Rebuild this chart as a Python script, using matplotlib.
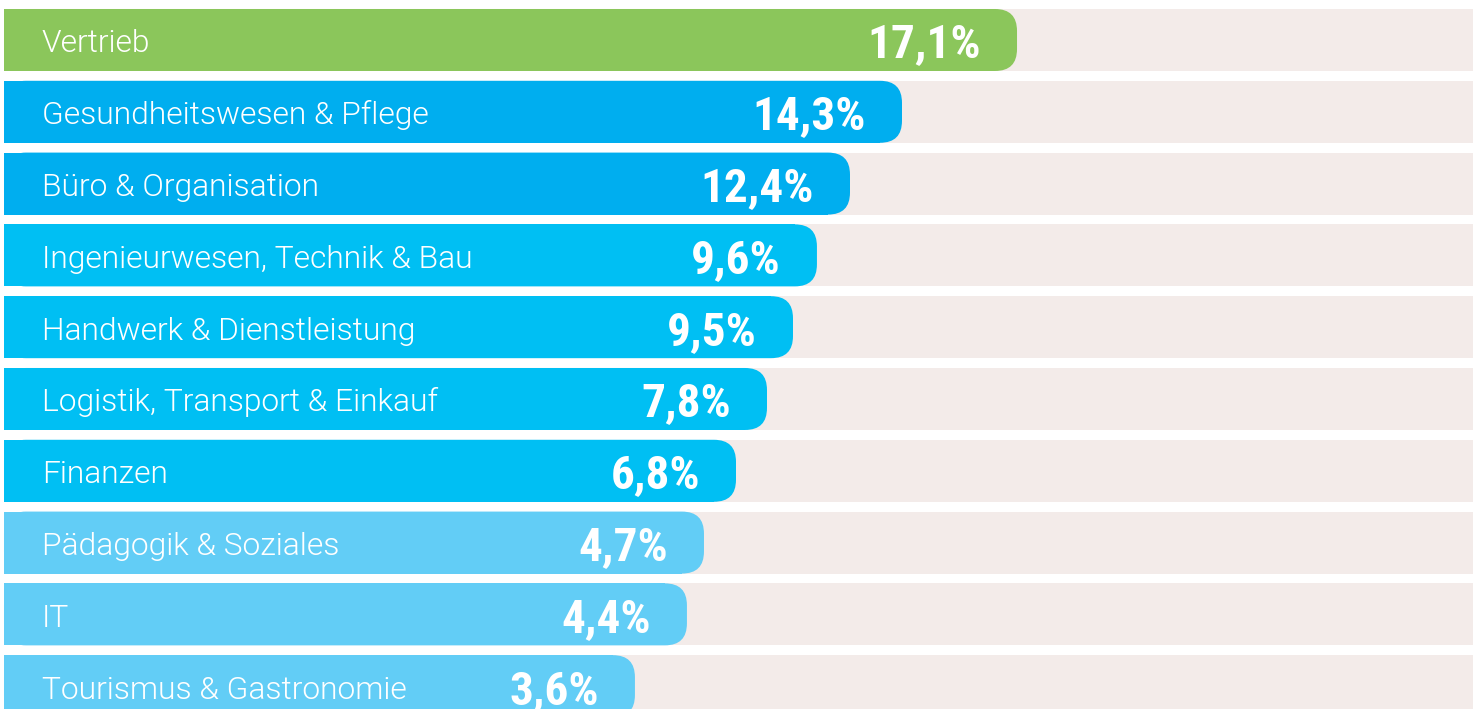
import matplotlib
matplotlib.use("Agg")
import matplotlib.pyplot as plt
from matplotlib import font_manager as fm
from matplotlib.patches import FancyBboxPatch, Rectangle

# ---- data ----
categories = [
    "Vertrieb",
    "Gesundheitswesen & Pflege",
    "Büro & Organisation",
    "Ingenieurwesen, Technik & Bau",
    "Handwerk & Dienstleistung",
    "Logistik, Transport & Einkauf",
    "Finanzen",
    "Pädagogik & Soziales",
    "IT",
    "Tourismus & Gastronomie",
]
values = [17.1, 14.3, 12.4, 9.6, 9.5, 7.8, 6.8, 4.7, 4.4, 3.6]
value_labels = ["17,1%", "14,3%", "12,4%", "9,6%", "9,5%", "7,8%", "6,8%", "4,7%", "4,4%", "3,6%"]
# displayed bar length as share of the full track
bar_lengths = [68.96, 61.13, 57.59, 55.34, 53.71, 51.94, 49.83, 47.65, 46.49, 42.95]
bar_colors = ["#8bc65b", "#00aeef", "#00aeef", "#00bff3", "#00bff3",
              "#00bff3", "#00bff3", "#62cdf6", "#62cdf6", "#62cdf6"]
track_color = "#f3ebe9"


# ---- fonts (deterministic file choice) ----
def font_file(names, weight, prefer):
    for name in names:
        cands = [f for f in fm.fontManager.ttflist
                 if f.name == name and f.style == "normal"]
        if not cands:
            continue
        def key(f):
            w = f.weight if isinstance(f.weight, int) else 400
            base = f.fname.rsplit("/", 1)[-1]
            return (abs(w - weight),
                    0 if prefer.lower() in base.lower() else 1,
                    1 if "[" in base or "variable" in base.lower() else 0,
                    base)
        return sorted(cands, key=key)[0].fname
    return None


label_path = font_file(["Roboto", "Open Sans"], 300, "Light")
value_path = font_file(["Roboto Condensed", "Barlow Condensed", "Oswald"], 700, "Bold")


def fprops(path, size, fallback_weight):
    if path:
        return fm.FontProperties(fname=path, size=size)
    return fm.FontProperties(family="DejaVu Sans", weight=fallback_weight, size=size)


label_fp = fprops(label_path, 22.9, "light")
value_fp = fprops(value_path, 34, "bold")

W, H, DPI = 14.73, 7.09, 100
fig = plt.figure(figsize=(W, H), dpi=DPI)
ax = fig.add_axes([0, 0, 1, 1])
ax.set_axis_off()

x_lo, x_hi = -0.272, 100.0
y_top, y_bot = -0.557, 9.318
ax.set_xlim(x_lo, x_hi)
ax.set_ylim(y_bot, y_top)

px_per_x = W * DPI / (x_hi - x_lo)
px_per_y = H * DPI / (y_bot - y_top)
aspect = px_per_x / px_per_y
bar_h = 0.8635
radius = 22 / px_per_x  # in x data units

for i, (cat, L, col, lab) in enumerate(zip(categories, bar_lengths, bar_colors, value_labels)):
    y0 = i - bar_h / 2
    ax.add_patch(Rectangle((0, y0), 110, bar_h, facecolor=track_color, edgecolor="none", zorder=1))
    ax.add_patch(FancyBboxPatch((0, y0), L, bar_h,
                                boxstyle=f"round,pad=0,rounding_size={radius}",
                                mutation_aspect=aspect,
                                facecolor=col, edgecolor="none", zorder=2))
    ax.add_patch(Rectangle((0, y0), L - radius, bar_h, facecolor=col, edgecolor="none", zorder=2))
    ax.annotate(cat, xy=(0, i), xytext=(38 * 72 / DPI, -12.5 * 72 / DPI),
                textcoords="offset points", ha="left", va="baseline",
                color="white", fontproperties=label_fp, zorder=3)
    ax.annotate(lab, xy=(L, i), xytext=(-36 * 72 / DPI, -17.5 * 72 / DPI),
                textcoords="offset points", ha="right", va="baseline",
                color="white", fontproperties=value_fp, zorder=3)

fig.savefig("out.png", dpi=DPI)
